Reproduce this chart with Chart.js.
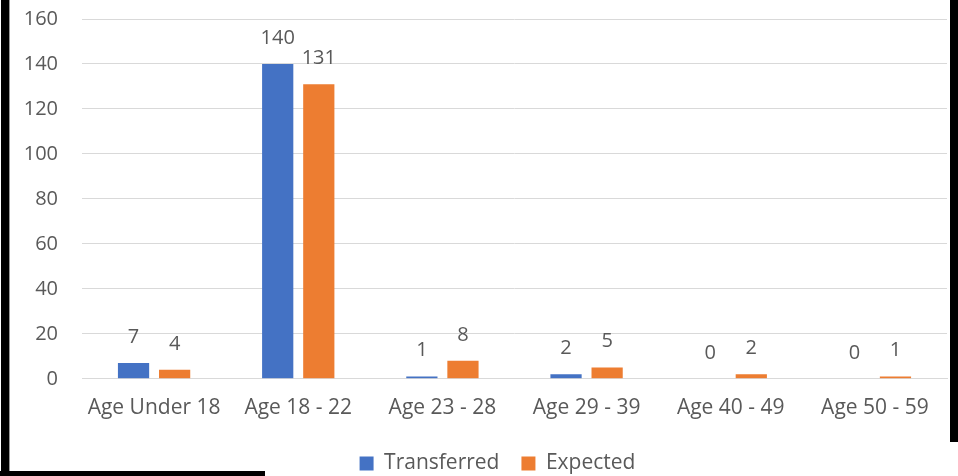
<!DOCTYPE html>
<html>
<head>
<meta charset="utf-8">
<script src="https://cdn.jsdelivr.net/npm/chart.js@4.4.0/dist/chart.umd.min.js"></script>
<style>
  html, body { margin: 0; padding: 0; background: #fff; }
  #wrap { position: relative; width: 958px; height: 476px; overflow: hidden; }
  #myChart { position: absolute; left: 0; top: 0; }
  .edge { position: absolute; background: #000; }
</style>
</head>
<body>
<div id="wrap">
  <canvas id="myChart" width="958" height="476"></canvas>
  <div class="edge" style="left:1px;top:0;width:8px;height:476px;"></div>
  <div class="edge" style="left:9px;top:0;width:1px;height:471px;background:#999;"></div>
  <div class="edge" style="left:0;top:471px;width:265px;height:5px;"></div>
  <div class="edge" style="left:950px;top:0;width:8px;height:442px;"></div>
</div>
<script>
const ageGroups = ["Age Under 18", "Age 18 - 22", "Age 23 - 28", "Age 29 - 39", "Age 40 - 49", "Age 50 - 59"];
const transferred = [7, 140, 1, 2, 0, 0];
const expected = [4, 131, 8, 5, 2, 1];

const gray = "#595959";
const font = "'Open Sans', sans-serif";

// labels above every bar, like excel data labels
const barLabels = {
  id: "barLabels",
  afterDatasetsDraw(chart) {
    const ctx = chart.ctx;
    ctx.save();
    ctx.font = "20px " + font;
    ctx.fillStyle = gray;
    ctx.textAlign = "center";
    ctx.textBaseline = "middle";
    chart.data.datasets.forEach((ds, i) => {
      chart.getDatasetMeta(i).data.forEach((bar, j) => {
        ctx.fillText(ds.data[j], bar.x, bar.y - 26);
      });
    });
    ctx.restore();
  },
};

// nudge the legend to where excel put it
const legendShift = {
  id: "legendShift",
  beforeDraw(chart) {
    const lg = chart.legend;
    if (!lg._moved) {
      lg.left += 24;
      lg.right += 24;
      lg.top -= 7;
      lg.bottom += 13;
      lg._moved = true;
    }
  },
};

const data = {
  labels: ageGroups,
  datasets: [
    {
      label: "Transferred",
      data: transferred,
      backgroundColor: "#4472C4",
      categoryPercentage: 0.57,
      barPercentage: 0.76,
    },
    {
      label: "Expected",
      data: expected,
      backgroundColor: "#ED7D31",
      categoryPercentage: 0.57,
      barPercentage: 0.76,
    },
  ],
};

const config = {
  type: "bar",
  data: data,
  options: {
    responsive: false,
    animation: false,
    layout: { padding: { top: 19, right: 11, left: 0, bottom: 2 } },
    plugins: {
      tooltip: { enabled: false },
      legend: {
        position: "bottom",
        maxHeight: 36,
        labels: {
          boxWidth: 14,
          boxHeight: 14,
          padding: 22,
          color: gray,
          font: { family: font, size: 21 },
        },
      },
    },
    scales: {
      x: {
        grid: { display: false, drawTicks: false },
        border: { color: "#d9d9d9" },
        ticks: { color: gray, padding: 17, font: { family: font, size: 21 } },
      },
      y: {
        min: 0,
        max: 160,
        afterFit(scale) { scale.width = 82; },
        grid: { color: "#d9d9d9", drawTicks: true, tickLength: 24, tickColor: "rgba(0,0,0,0)" },
        border: { display: false },
        ticks: { stepSize: 20, color: gray, padding: 0, font: { family: font, size: 20 } },
      },
    },
  },
  plugins: [barLabels, legendShift],
};

const ctx = document.getElementById("myChart");
const myChart = new Chart(ctx.getContext("2d"), config);
</script>
</body>
</html>
